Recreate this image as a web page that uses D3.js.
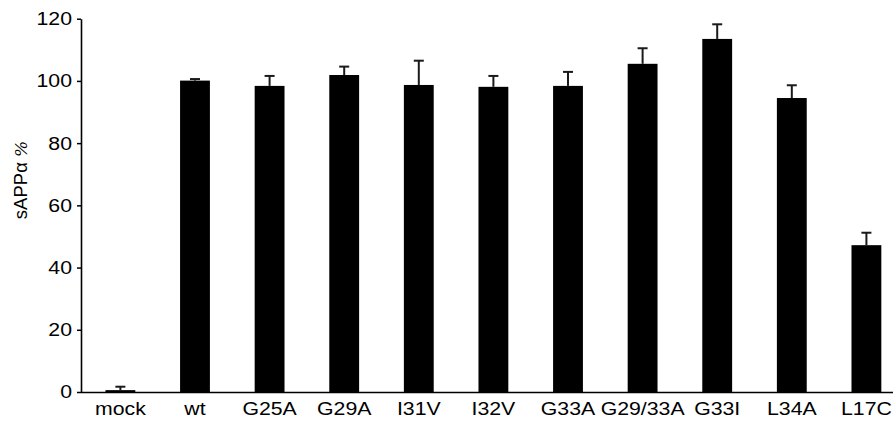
<!DOCTYPE html>
<html><head><meta charset="utf-8">
<script src="https://cdn.jsdelivr.net/npm/d3@7"></script>
<style>
body{margin:0;background:#fff;}
text{font-family:"Liberation Sans",Arial,Helvetica,sans-serif;}
</style></head>
<body>
<svg id="chart" width="893" height="421"></svg>
<script>
const categories = ["mock","wt","G25A","G29A","I31V","I32V","G33A","G29/33A","G33I","L34A","L17C"];
const values = [0.6, 100.1, 98.4, 101.9, 98.7, 98.1, 98.4, 105.5, 113.5, 94.5, 47.2];
const errors = [1.1, 0.5, 3.2, 2.7, 7.8, 3.5, 4.5, 5.0, 4.7, 4.1, 4.0];
const yTicks = [0, 20, 40, 60, 80, 100, 120];
const yLabelMain = "sAPPα ";
const yLabelUnit = "%";

const svg = d3.select("#chart");
const x0 = 81;
const sx = 1.15; // horizontal stretch of text in the reference
const y = d3.scaleLinear().domain([0, 120]).range([392, 18.7]);
const x = d3.scaleBand().domain(categories).range([x0, 905.8]).paddingInner(0.6).paddingOuter(0.328);

// bars
svg.append("g").selectAll("rect").data(categories).join("rect")
  .attr("x", d => x(d)).attr("width", x.bandwidth())
  .attr("y", (d,i) => y(values[i])).attr("height", (d,i) => y(0) - y(values[i]))
  .attr("fill", "#000");

// error bars (upper only)
const eg = svg.append("g").attr("stroke", "#1a1a1a").attr("stroke-width", 2);
categories.forEach((c, i) => {
  const cx = x(c) + x.bandwidth() / 2;
  eg.append("line").attr("x1", cx).attr("x2", cx).attr("y1", y(values[i])).attr("y2", y(values[i] + errors[i]));
  eg.append("line").attr("x1", cx - 5).attr("x2", cx + 5).attr("y1", y(values[i] + errors[i])).attr("y2", y(values[i] + errors[i]));
});

// y axis
const ya = svg.append("g").attr("transform", `translate(${x0},0)`)
  .call(d3.axisLeft(y).tickValues(yTicks).tickSize(4).tickPadding(5).tickSizeOuter(0));
ya.select(".domain").attr("stroke", "#000").attr("stroke-width", 1.6);
ya.selectAll(".tick line").attr("stroke", "#000").attr("stroke-width", 1.5);
ya.selectAll(".tick text").attr("font-size", 18.5).attr("fill", "#000")
  .attr("font-family", "'Liberation Sans',Arial,sans-serif")
  .attr("x", -9 / sx).attr("transform", `scale(${sx},1)`);

// x axis
const xa = svg.append("g").attr("transform", `translate(0,${y(0)})`)
  .call(d3.axisBottom(x).tickSize(0).tickPadding(10).tickSizeOuter(0));
xa.select(".domain").attr("stroke", "#000").attr("stroke-width", 1.6)
  .attr("d", `M${x0},0.5H893`);
xa.selectAll(".tick text").attr("font-size", 18.5).attr("fill", "#000")
  .attr("font-family", "'Liberation Sans',Arial,sans-serif")
  .attr("transform", `scale(${sx},1)`);

// y label
const yl = svg.append("text")
  .attr("transform", `translate(27,180) rotate(-90)`)
  .attr("text-anchor", "middle")
  .attr("font-size", 18.5).attr("fill", "#000");
yl.append("tspan").text(yLabelMain);
yl.append("tspan").attr("font-style", "italic").attr("font-family", "'DejaVu Serif',serif").attr("font-size", 17).text(yLabelUnit);
</script>
</body></html>
